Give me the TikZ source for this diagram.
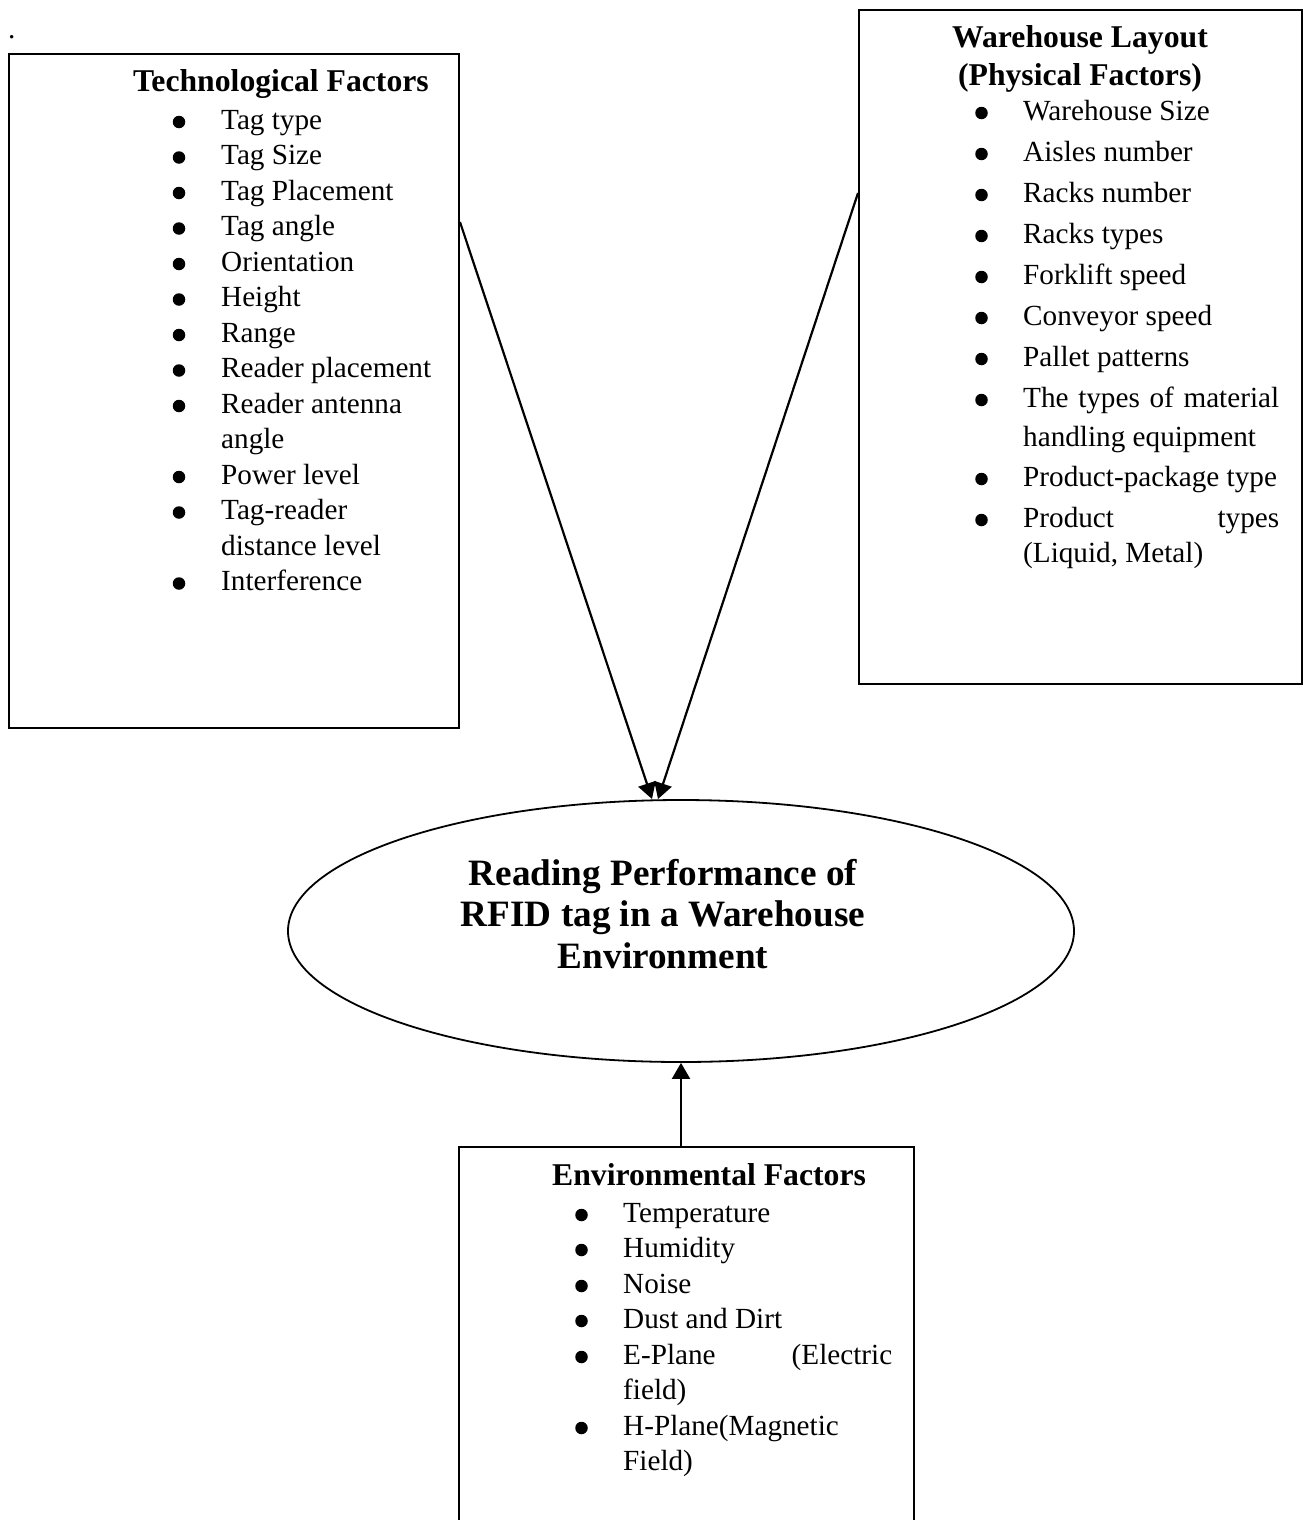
\documentclass[tikz,border=0pt]{standalone}
\usepackage{fontspec}
\setmainfont{Liberation Serif}
\usetikzlibrary{arrows.meta,shapes.geometric}
\newcommand\regf{\fontsize{29.2}{35}\selectfont}
\newcommand\titf{\fontsize{31.7}{38}\selectfont\bfseries}
\newcommand\elf{\fontsize{37.2}{41.5}\selectfont\bfseries}
\begin{document}
\begin{tikzpicture}[x=1pt,y=-1pt,
 box/.style={draw, line width=2pt, inner sep=0pt, anchor=north west},
 txt/.style={anchor=base west, inner sep=0pt, font=\regf},
 ttl/.style={anchor=base west, inner sep=0pt, font=\titf},
 ttlc/.style={anchor=base, inner sep=0pt, font=\titf},
 elt/.style={anchor=base, inner sep=0pt, font=\elf},
 dotb/.style={circle, fill, inner sep=0pt, minimum size=12.5pt},
 arr/.style={line width=2.2pt, -{Triangle[width=18pt,length=16pt]}}]
\useasboundingbox (0,0) rectangle (1303,1520);
\clip (0,0) rectangle (1303,1520);

\node[txt] (dot) at (8,39) {.};

% boxes
\node[box, minimum width=450pt, minimum height=674pt] (tech) at (8,53) {};
\node[box, minimum width=443pt, minimum height=674pt] (wh) at (858,9) {};
\node[box, minimum width=455pt, minimum height=420pt] (env) at (458,1146) {};
\node[draw, ellipse, line width=1.8pt, inner sep=0pt, minimum width=786pt, minimum height=262pt] (perf) at (681,931) {};

% ellipse text
\node[elt] (p1) at (663,885) {Reading Performance of};
\node[elt] (p2) at (663,926.5) {RFID tag in a Warehouse};
\node[elt] (p3) at (663,968) {Environment};

% technological factors
\node[ttl] (tt) at (133,92) {Technological Factors};
\node[txt] (a0) at (221,129) {Tag type};
\node[txt] (a1) at (221,164.5) {Tag Size};
\node[txt] (a2) at (221,200) {Tag Placement};
\node[txt] (a3) at (221,235.5) {Tag angle};
\node[txt] (a4) at (221,271) {Orientation};
\node[txt] (a5) at (221,306.5) {Height};
\node[txt] (a6) at (221,342) {Range};
\node[txt] (a7) at (221,377.5) {Reader placement};
\node[txt] (a8) at (221,413) {Reader antenna};
\node[txt] (a9) at (221,448.5) {angle};
\node[txt] (a10) at (221,484) {Power level};
\node[txt] (a11) at (221,519.5) {Tag-reader};
\node[txt] (a12) at (221,555) {distance level};
\node[txt] (a13) at (221,590.5) {Interference};
\foreach \y [count=\i] in {129,164.5,200,235.5,271,306.5,342,377.5,413,484,519.5,590.5}
  \node[dotb] (ab\i) at (179,\y-7) {};

% warehouse layout
\node[ttlc] (wt1) at (1080,48) {Warehouse Layout};
\node[ttlc] (wt2) at (1080,85) {(Physical Factors)};
\node[txt] (b0) at (1023,120) {Warehouse Size};
\node[txt] (b1) at (1023,161) {Aisles number};
\node[txt] (b2) at (1023,202) {Racks number};
\node[txt] (b3) at (1023,243) {Racks types};
\node[txt] (b4) at (1023,284) {Forklift speed};
\node[txt] (b5) at (1023,325) {Conveyor speed};
\node[txt] (b6) at (1023,366) {Pallet patterns};
\node[txt] (b7) at (1023,407) {\hbox to 256pt{The\hfill types\hfill of\hfill material}};
\node[txt] (b8) at (1023,446) {handling equipment};
\node[txt] (b9) at (1023,486) {Product-package type};
\node[txt] (b10) at (1023,527) {\hbox to 256pt{Product\hfill types}};
\node[txt] (b11) at (1023,562) {(Liquid, Metal)};
\foreach \y [count=\i] in {120,161,202,243,284,325,366,407,486,527}
  \node[dotb] (bb\i) at (981.5,\y-7) {};

% environmental factors
\node[ttl] (et) at (552,1185) {Environmental Factors};
\node[txt] (c0) at (623,1222) {Temperature};
\node[txt] (c1) at (623,1257) {Humidity};
\node[txt] (c2) at (623,1293) {Noise};
\node[txt] (c3) at (623,1328) {Dust and Dirt};
\node[txt] (c4) at (623,1364) {\hbox to 269pt{E-Plane\hfill (Electric}};
\node[txt] (c5) at (623,1399) {field)};
\node[txt] (c6) at (623,1435) {H-Plane(Magnetic};
\node[txt] (c7) at (623,1470) {Field)};
\foreach \y [count=\i] in {1222,1257,1293,1328,1364,1435}
  \node[dotb] (cb\i) at (581.5,\y-7) {};

% connectors
\coordinate (tipL) at (652,799);
\coordinate (tipR) at (658,799);
\draw[arr] ([yshift=-169pt]tech.north east) -- (tipL);
\draw[arr] ([yshift=-184pt]wh.north west) -- (tipR);
\draw[arr] (perf.south |- env.north) -- (perf.south);
\end{tikzpicture}
\end{document}
